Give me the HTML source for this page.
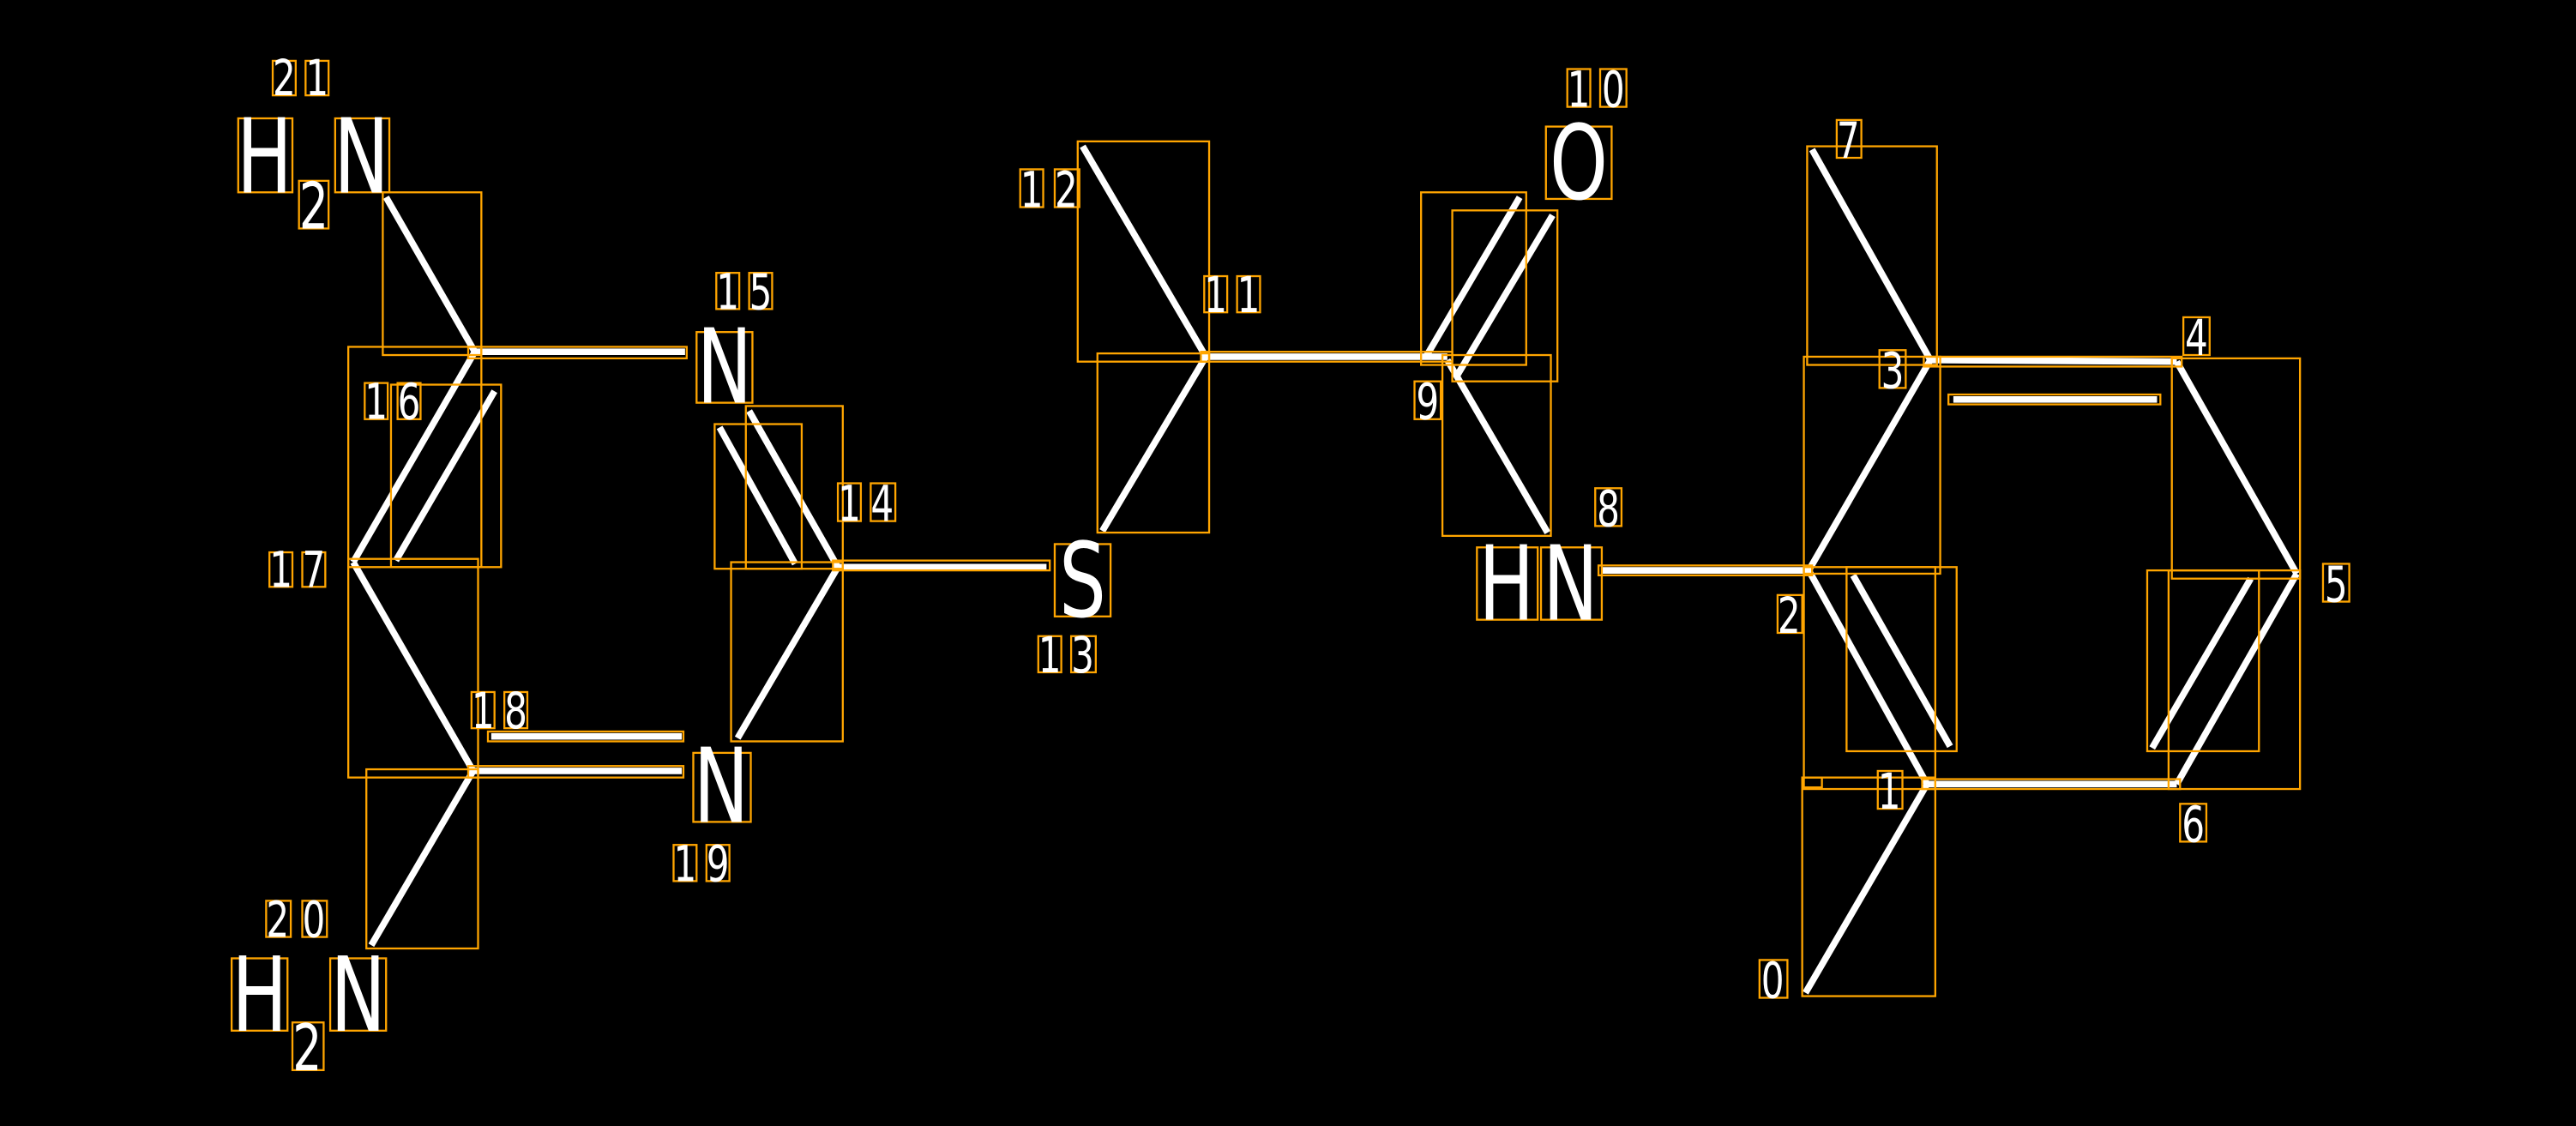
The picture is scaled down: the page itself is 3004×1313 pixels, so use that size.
<!DOCTYPE html>
<html><head><meta charset="utf-8"><style>
html,body{margin:0;padding:0;background:#000;}
svg{display:block;}
text{font-family:"DejaVu Sans","Liberation Sans",sans-serif;fill:#fff;text-anchor:middle;}
.s{font-size:22px;}
.b{font-size:45px;}
.l{stroke:#fff;stroke-width:4;stroke-linecap:butt;}
.o{fill:none;stroke:#FFA500;stroke-width:1.2;}
</style></head><body>
<svg width="3004" height="1313" viewBox="0 0 1568 685" preserveAspectRatio="none" xmlns="http://www.w3.org/2000/svg">
<rect width="1568" height="685" fill="#000"/>
<g class="l">
<line x1="235" y1="120" x2="289" y2="214"/>
<line x1="289" y1="214" x2="417" y2="214"/>
<line x1="289" y1="214" x2="215" y2="342"/>
<line x1="301" y1="238" x2="241" y2="341"/>
<line x1="215" y1="342" x2="288" y2="469"/>
<line x1="288" y1="469" x2="415" y2="469"/>
<line x1="299" y1="448" x2="415" y2="448"/>
<line x1="288" y1="469" x2="226" y2="575"/>
<line x1="510" y1="345" x2="456" y2="250"/>
<line x1="438" y1="260" x2="484" y2="343"/>
<line x1="510" y1="345" x2="449" y2="449"/>
<line x1="510" y1="345" x2="637" y2="345"/>
<line x1="659" y1="89" x2="734" y2="217"/>
<line x1="734" y1="217" x2="671" y2="323"/>
<line x1="734" y1="217" x2="881" y2="217"/>
<line x1="868" y1="217" x2="925" y2="120"/>
<line x1="886" y1="230" x2="945" y2="131"/>
<line x1="881" y1="219" x2="942" y2="324"/>
<line x1="975" y1="347" x2="1101" y2="347"/>
<line x1="1103" y1="91" x2="1175" y2="219"/>
<line x1="1175" y1="219" x2="1325" y2="220"/>
<line x1="1189" y1="243" x2="1313" y2="243"/>
<line x1="1325" y1="220" x2="1398" y2="349"/>
<line x1="1398" y1="349" x2="1325" y2="477"/>
<line x1="1370" y1="352" x2="1310" y2="455"/>
<line x1="1325" y1="477" x2="1173" y2="477"/>
<line x1="1173" y1="477" x2="1101" y2="347"/>
<line x1="1128" y1="350" x2="1187" y2="454"/>
<line x1="1101" y1="347" x2="1175" y2="219"/>
<line x1="1173" y1="477" x2="1099" y2="604"/>
</g>
<g class="o">
<rect x="233" y="117" width="60" height="99"/>
<rect x="212" y="211" width="81" height="134"/>
<rect x="238" y="234" width="67" height="111"/>
<rect x="212" y="340" width="79" height="133"/>
<rect x="223" y="468" width="68" height="109"/>
<rect x="285" y="211" width="133" height="7"/>
<rect x="297" y="445" width="119" height="6"/>
<rect x="285" y="466" width="131" height="7"/>
<rect x="435" y="258" width="53" height="88"/>
<rect x="454" y="247" width="59" height="99"/>
<rect x="445" y="342" width="68" height="109"/>
<rect x="507" y="341" width="132" height="6"/>
<rect x="656" y="86" width="80" height="134"/>
<rect x="668" y="215" width="68" height="109"/>
<rect x="731" y="214" width="153" height="6"/>
<rect x="865" y="117" width="64" height="105"/>
<rect x="884" y="128" width="64" height="104"/>
<rect x="878" y="216" width="66" height="110"/>
<rect x="973" y="344" width="130" height="6"/>
<rect x="1100" y="89" width="79" height="133"/>
<rect x="1098" y="217" width="83" height="132"/>
<rect x="1171" y="217" width="157" height="6"/>
<rect x="1186" y="240" width="129" height="6"/>
<rect x="1322" y="218" width="78" height="134"/>
<rect x="1124" y="345" width="67" height="112"/>
<rect x="1098" y="345" width="80" height="135"/>
<rect x="1307" y="347" width="68" height="110"/>
<rect x="1320" y="347" width="80" height="133"/>
<rect x="1170" y="474" width="157" height="6"/>
<rect x="1097" y="473" width="81" height="133"/>
<rect x="1097" y="473" width="12" height="6"/>
</g>
<g class="o">
<rect x="166" y="37" width="14" height="21"/><rect x="186" y="37" width="14" height="21"/>
<rect x="436" y="166" width="14" height="22"/><rect x="456" y="166" width="14" height="22"/>
<rect x="222" y="233" width="14" height="22"/><rect x="242" y="233" width="14" height="22"/>
<rect x="164" y="336" width="14" height="21"/><rect x="184" y="336" width="14" height="21"/>
<rect x="510" y="294" width="14" height="23"/><rect x="530" y="294" width="15" height="23"/>
<rect x="287" y="421" width="14" height="22"/><rect x="307" y="421" width="14" height="22"/>
<rect x="410" y="514" width="14" height="22"/><rect x="430" y="514" width="14" height="22"/>
<rect x="162" y="548" width="15" height="22"/><rect x="184" y="548" width="15" height="22"/>
<rect x="621" y="103" width="14" height="23"/><rect x="642" y="103" width="15" height="23"/>
<rect x="733" y="168" width="14" height="22"/><rect x="753" y="168" width="14" height="22"/>
<rect x="632" y="387" width="14" height="22"/><rect x="652" y="387" width="15" height="22"/>
<rect x="954" y="42" width="14" height="23"/><rect x="974" y="42" width="16" height="23"/>
<rect x="861" y="232" width="16" height="23"/>
<rect x="971" y="297" width="16" height="23"/>
<rect x="1118" y="73" width="15" height="23"/>
<rect x="1144" y="213" width="16" height="23"/>
<rect x="1329" y="193" width="16" height="23"/>
<rect x="1082" y="362" width="15" height="23"/>
<rect x="1414" y="343" width="16" height="23"/>
<rect x="1143" y="469" width="15" height="23"/>
<rect x="1327" y="489" width="16" height="23"/>
<rect x="1071" y="584" width="17" height="23"/>
<rect x="145" y="72" width="33" height="45"/><rect x="204" y="72" width="33" height="45"/><rect x="182" y="110" width="18" height="29"/>
<rect x="424" y="202" width="34" height="43"/>
<rect x="642" y="331" width="34" height="44"/>
<rect x="941" y="77" width="40" height="44"/>
<rect x="899" y="333" width="37" height="44"/><rect x="938" y="333" width="37" height="44"/>
<rect x="422" y="458" width="35" height="42"/>
<rect x="141" y="583" width="34" height="44"/><rect x="201" y="583" width="34" height="44"/><rect x="178" y="622" width="19" height="29"/>
</g>
<g class="s" transform="scale(1,1.37)">
<text x="173" y="42.3">2</text><text x="193" y="42.3">1</text>
<text x="443" y="137.2">1</text><text x="463" y="137.2">5</text>
<text x="229" y="186.1">1</text><text x="249" y="186.1">6</text>
<text x="171" y="260.6">1</text><text x="191" y="260.6">7</text>
<text x="517" y="231.4">1</text><text x="537" y="231.4">4</text>
<text x="294" y="323.4">1</text><text x="314" y="323.4">8</text>
<text x="417" y="391.2">1</text><text x="437" y="391.2">9</text>
<text x="169" y="416.1">2</text><text x="191" y="416.1">0</text>
<text x="628" y="92">1</text><text x="649" y="92">2</text>
<text x="740" y="138.7">1</text><text x="760" y="138.7">1</text>
<text x="639" y="298.5">1</text><text x="659" y="298.5">3</text>
<text x="961" y="47.4">1</text><text x="982" y="47.4">0</text>
<text x="869" y="186.1">9</text>
<text x="979" y="233.6">8</text>
<text x="1125" y="70.1">7</text>
<text x="1152" y="172.3">3</text>
<text x="1337" y="157.7">4</text>
<text x="1089" y="281">2</text>
<text x="1422" y="267.2">5</text>
<text x="1150" y="359.1">1</text>
<text x="1335" y="373.7">6</text>
<text x="1079" y="443.1">0</text>
</g>
<g class="b" transform="scale(1,1.4)">
<text x="161" y="83.6">H</text><text x="220" y="83.6">N</text>
<text x="191" y="99.3" style="font-size:28px">2</text>
<text x="441" y="175">N</text>
<text x="659" y="267.9">S</text>
<text x="961" y="86.4">O</text>
<text x="917" y="269.3">H</text><text x="956" y="269.3">N</text>
<text x="439" y="357.1">N</text>
<text x="158" y="447.9">H</text><text x="218" y="447.9">N</text>
<text x="187" y="465" style="font-size:28px">2</text>
</g>
</svg>
</body></html>
